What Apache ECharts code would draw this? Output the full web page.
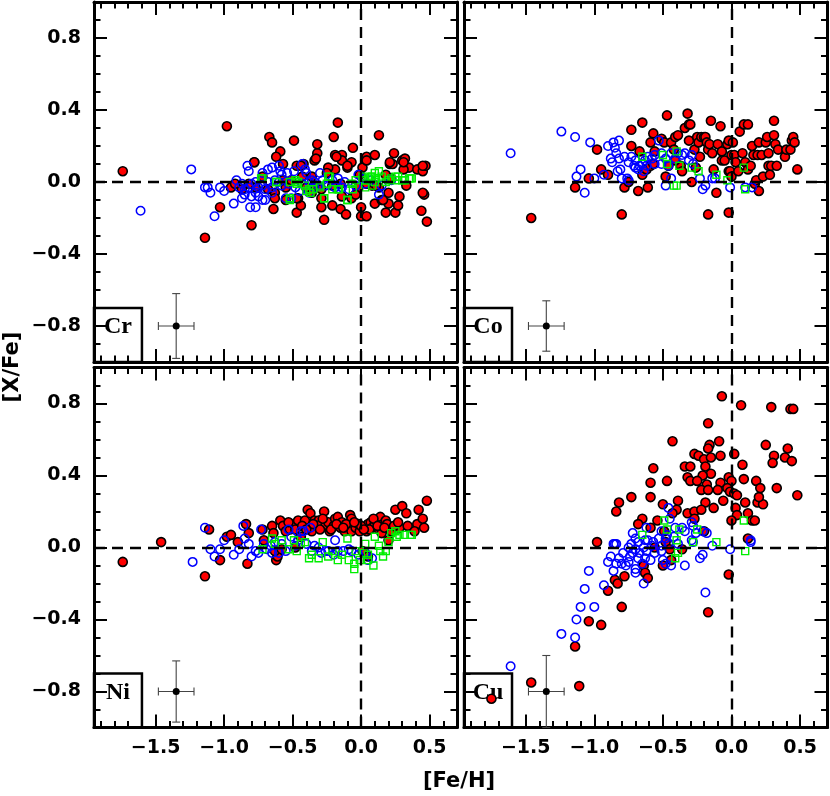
<!DOCTYPE html>
<html>
<head>
<meta charset="utf-8">
<script src="https://cdn.jsdelivr.net/npm/echarts@6/dist/echarts.min.js"></script>
<style>html,body{margin:0;padding:0;background:#fff}#chart{width:830px;height:796px}</style>
</head>
<body>
<div id="chart"></div>
<script>
// panels: Cr, Co (top), Ni, Cu (bottom)
var panelNames = ['Cr', 'Co', 'Ni', 'Cu'];

var xMajorTicks = [-1.5, -1.0, -0.5, 0.0, 0.5];
var xMinorTicks = [-1.9, -1.8, -1.7, -1.6, -1.4, -1.3, -1.2, -1.1, -0.9, -0.8, -0.7, -0.6, -0.4, -0.3, -0.2, -0.1, 0.1, 0.2, 0.3, 0.4, 0.6];
var yMajorTicks = [-0.8, -0.4, 0.0, 0.4, 0.8];
var yMinorTicks = [-0.9, -0.7, -0.6, -0.5, -0.3, -0.2, -0.1, 0.1, 0.2, 0.3, 0.5, 0.6, 0.7, 0.9];

// [x, y, xerr, yerr] typical error bar
var errBars = [[-1.35, -0.8, 0.13, 0.18], [-1.35, -0.8, 0.13, 0.14], [-1.35, -0.8, 0.13, 0.17], [-1.35, -0.8, 0.13, 0.2]];

var crRed = [[-1.74,0.06],[-0.98,0.31],[-1.14,-0.31],[-1.03,-0.14],[-0.80,-0.24],[-0.95,-0.03],[-0.78,0.11],[-0.67,0.25],[-0.65,0.22],[-0.59,0.17],
  [-0.62,0.14],[-0.49,0.23],[-0.57,0.10],[-0.64,-0.15],[-0.47,-0.17],[-0.44,-0.13],[-0.47,0.09],[-0.42,0.10],[-0.34,0.12],[-0.32,0.16],
  [-0.32,0.21],[-0.33,0.13],[-0.29,-0.14],[-0.27,-0.21],[-0.21,-0.13],[-0.20,0.25],[-0.17,0.33],[-0.19,0.15],[-0.14,0.15],[-0.14,0.12],
  [-0.07,0.11],[-0.06,0.19],[-0.15,-0.15],[-0.11,-0.18],[-0.10,0.08],[-0.14,-0.08],[0.00,-0.14],[0.00,-0.19],[0.04,-0.19],[0.04,0.14],
  [0.01,0.08],[0.10,0.15],[0.13,0.26],[0.10,-0.12],[0.15,-0.10],[0.18,-0.17],[0.20,-0.12],[0.20,-0.06],[0.24,0.16],[0.21,0.10],
  [0.23,0.10],[0.30,0.12],[0.32,0.13],[0.35,0.08],[0.31,0.07],[0.25,-0.17],[0.27,-0.13],[0.28,-0.08],[0.33,-0.02],[0.41,0.07],
  [0.45,0.06],[0.47,0.09],[0.46,-0.07],[0.44,-0.16],[0.48,-0.22],[-0.19,0.07],[-0.24,0.08],[-0.34,-0.02],[-0.36,0.03],[-0.43,0.03],
  [-0.51,0.01],[-0.55,-0.03],[-0.63,-0.06],[-0.68,-0.04],[-0.72,0.03],[-0.77,-0.03],[-0.82,-0.01],[-0.87,-0.04],[-0.92,-0.01],[-0.46,-0.09],
  [-0.63,-0.09],[-0.55,-0.10],[-0.02,-0.03],[0.08,-0.02],[0.13,-0.03],[0.18,0.04],[0.22,0.02],[-0.07,-0.09],[-0.04,-0.07],[-0.36,-0.06],
  [-0.29,-0.04],[-0.18,0.14],[-0.10,0.09],[-0.01,0.04],[0.04,0.12],[0.21,0.11],[0.31,0.11],[0.45,0.09],[0.45,-0.06],[0.16,-0.10],
  [0.11,-0.02],[0.04,-0.01],[-0.15,-0.01],[-0.21,-0.02],[-0.29,-0.09],[-0.47,-0.09],[-0.78,0.11],[-0.44,0.09],[-0.57,0.01],[-0.40,-0.03],[-0.25,0.05]];
var crBlue = [[-1.61,-0.16],[-1.24,0.07],[-1.14,-0.03],[-1.12,-0.03],[-1.10,-0.06],[-1.07,-0.19],[-1.03,-0.03],[-1.00,-0.05],[-0.93,-0.12],[-0.91,0.01],
  [-0.87,-0.09],[-0.85,-0.07],[-0.83,0.09],[-0.82,0.06],[-0.81,-0.14],[-0.77,-0.14],[-0.80,-0.08],[-0.75,-0.08],[-0.72,-0.10],[-0.70,-0.10],
  [-0.72,0.05],[-0.65,0.08],[-0.60,0.09],[-0.59,0.06],[-0.54,0.05],[-0.55,-0.09],[-0.51,-0.09],[-0.43,0.10],[-0.41,0.07],[-0.40,0.05],
  [-0.38,-0.06],[-0.30,0.05],[-0.34,-0.03],[-0.24,-0.01],[-0.21,0.01],[-0.17,0.02],[-0.09,-0.04],[-0.02,0.04],[0.01,0.02],[0.13,-0.07],
  [0.15,-0.02],[0.22,0.01],[-0.87,-0.01],[-0.82,-0.03],[-0.80,-0.01],[-0.77,0.00],[-0.75,-0.03],[-0.72,-0.02],[-0.70,-0.04],[-0.68,0.00],
  [-0.65,-0.03],[-0.63,0.01],[-0.60,0.00],[-0.58,-0.02],[-0.53,-0.01],[-0.48,-0.03],[-0.43,-0.01],[-0.38,0.00],[-0.36,0.01],[-0.34,0.00],
  [-0.31,-0.02],[-0.26,-0.02],[-0.19,-0.03],[-0.14,-0.03],[-0.04,-0.02],[-0.65,-0.06],[-0.77,-0.06],[-0.85,-0.04],[-0.89,-0.03],[-0.58,0.04],
  [-0.49,0.06],[-0.68,0.07],[-0.45,-0.05],[-0.28,0.01],[-0.12,0.00],[0.03,-0.01],[0.07,0.01]];
var crGreen = [[-0.73,0.02],[-0.62,0.00],[-0.52,-0.10],[-0.48,0.01],[-0.46,0.00],[-0.41,-0.02],[-0.38,-0.04],[-0.35,-0.04],[-0.27,-0.09],[-0.30,-0.03],
  [-0.24,0.03],[-0.21,-0.04],[-0.17,-0.04],[-0.10,-0.10],[-0.07,-0.01],[-0.04,0.01],[0.01,0.03],[0.03,0.01],[0.05,0.02],[0.08,0.03],
  [0.10,0.00],[0.11,0.02],[0.13,0.06],[0.15,0.03],[0.18,0.00],[0.20,0.01],[0.22,0.02],[0.25,0.03],[0.27,0.03],[0.30,0.01],
  [0.32,0.01],[0.35,0.02],[0.37,0.02],[0.03,-0.03],[0.08,-0.02],[-0.52,0.00],[-0.47,-0.01],[-0.40,-0.05],[-0.37,-0.06],[-0.30,-0.02],
  [-0.25,-0.01],[-0.16,-0.04],[-0.10,-0.10],[-0.06,-0.04],[0.07,0.03],[0.10,0.05],[0.26,0.01],[0.36,0.02],[-0.72,0.02],[-0.62,0.00],
  [-0.23,0.03],[-0.52,-0.09],[-0.27,-0.09]];

var coRed = [[-1.46,-0.20],[-1.14,-0.03],[-1.04,0.02],[-0.98,0.18],[-0.95,0.07],[-0.90,0.04],[-0.80,-0.18],[-0.78,-0.03],[-0.75,0.00],[-0.73,0.29],
  [-0.73,0.20],[-0.68,-0.05],[-0.67,0.17],[-0.65,0.33],[-0.61,-0.03],[-0.57,0.27],[-0.59,0.22],[-0.56,0.17],[-0.51,0.24],[-0.49,0.22],
  [-0.48,0.03],[-0.47,0.37],[-0.44,0.22],[-0.41,0.25],[-0.42,0.18],[-0.39,0.26],[-0.37,0.09],[-0.36,0.06],[-0.34,0.30],[-0.32,0.38],
  [-0.31,0.32],[-0.30,0.32],[-0.31,0.23],[-0.29,0.00],[-0.27,0.18],[-0.25,0.25],[-0.24,0.22],[-0.23,0.14],[-0.22,0.25],[-0.20,0.25],
  [-0.19,0.25],[-0.18,0.22],[-0.17,0.18],[-0.16,0.21],[-0.15,0.34],[-0.17,-0.18],[-0.14,0.16],[-0.13,0.07],[-0.11,-0.06],[-0.10,0.21],
  [-0.08,0.31],[-0.07,0.17],[-0.07,0.12],[-0.05,0.12],[-0.03,0.21],[-0.02,0.23],[-0.02,-0.17],[-0.02,0.06],[-0.01,0.06],[0.00,0.03],
  [0.00,0.15],[0.01,0.22],[0.02,0.15],[0.03,0.11],[0.05,0.06],[0.06,0.28],[0.08,0.16],[0.09,0.32],[0.12,0.32],[0.10,0.11],
  [0.12,0.07],[0.14,0.09],[0.15,0.20],[0.16,0.15],[0.17,-0.01],[0.18,0.01],[0.19,0.15],[0.20,-0.05],[0.20,0.22],[0.22,0.15],
  [0.23,0.03],[0.25,0.22],[0.26,0.25],[0.27,0.16],[0.27,0.09],[0.28,0.04],[0.29,0.09],[0.31,0.26],[0.31,0.34],[0.32,0.21],
  [0.33,0.09],[0.34,0.18],[0.39,0.14],[0.40,0.18],[0.43,0.18],[0.44,0.23],[0.45,0.25],[0.46,0.22],[0.48,0.07],[-0.65,0.04],
  [-0.62,0.07],[-0.59,0.09],[-0.57,0.10],[-0.46,0.09],[-0.41,0.12],[-0.26,0.08]];
var coBlue = [[-1.61,0.16],[-1.24,0.28],[-1.14,0.25],[-1.03,0.22],[-1.10,0.07],[-1.13,0.03],[-1.07,-0.06],[-1.00,0.02],[-0.93,0.04],[-0.90,0.20],
  [-0.86,0.22],[-0.82,0.23],[-0.85,0.19],[-0.84,0.16],[-0.82,0.13],[-0.88,0.13],[-0.87,0.11],[-0.83,0.06],[-0.81,0.07],[-0.80,0.02],
  [-0.76,0.02],[-0.75,0.01],[-0.78,0.14],[-0.75,0.11],[-0.73,0.14],[-0.71,0.09],[-0.70,0.08],[-0.68,0.07],[-0.65,0.10],[-0.63,0.12],
  [-0.61,0.14],[-0.58,0.13],[-0.56,0.10],[-0.53,0.23],[-0.51,0.16],[-0.48,0.13],[-0.48,-0.02],[-0.46,0.09],[-0.44,0.02],[-0.44,0.16],
  [-0.41,0.13],[-0.39,0.16],[-0.36,0.15],[-0.34,0.16],[-0.31,0.12],[-0.29,0.15],[-0.28,0.10],[-0.23,0.02],[-0.21,-0.04],[-0.19,-0.02],
  [-0.14,0.02],[-0.12,0.02],[-0.01,-0.03],[0.15,-0.03],[0.10,-0.03],[-0.70,0.12],[-0.67,0.09],[-0.62,0.09],[-0.56,0.15],[-0.51,0.10],[-0.64,0.06]];
var coGreen = [[-0.65,0.14],[-0.50,0.15],[-0.40,0.17],[-0.47,0.10],[-0.38,0.09],[-0.42,-0.02],[-0.40,-0.02],[-0.29,0.08],[-0.24,0.06],[-0.11,0.04],
  [-0.03,0.01],[0.09,0.08],[0.10,-0.04]];

var niRed = [[-1.74,-0.08],[-1.46,0.03],[-1.14,-0.16],[-1.11,0.10],[-1.03,-0.07],[-0.98,0.06],[-0.95,0.07],[-0.90,0.03],[-0.84,0.13],[-0.83,-0.09],
  [-0.82,0.08],[-0.72,0.10],[-0.71,0.04],[-0.65,0.12],[-0.64,0.08],[-0.62,-0.07],[-0.61,-0.05],[-0.59,0.15],[-0.57,0.12],[-0.55,0.09],
  [-0.52,0.10],[-0.49,0.13],[-0.48,0.10],[-0.46,0.15],[-0.41,0.15],[-0.39,0.21],[-0.37,0.19],[-0.36,0.09],[-0.34,0.15],[-0.32,0.12],
  [-0.31,0.15],[-0.29,0.13],[-0.27,0.20],[-0.26,0.12],[-0.24,0.14],[-0.23,0.09],[-0.20,0.12],[-0.19,0.16],[-0.17,0.17],[-0.15,0.11],
  [-0.14,0.14],[-0.12,0.09],[-0.10,0.12],[-0.08,0.18],[-0.07,0.16],[-0.07,0.09],[-0.04,0.11],[-0.02,0.13],[-0.01,0.09],[0.01,-0.02],
  [0.03,0.11],[0.04,0.09],[0.05,0.13],[0.07,0.14],[0.08,0.11],[0.10,0.13],[0.11,0.15],[0.14,0.17],[0.16,0.13],[0.18,0.15],
  [0.19,0.13],[0.25,0.21],[0.28,0.11],[0.30,0.23],[0.33,0.19],[0.34,0.12],[0.41,0.13],[0.42,0.21],[0.45,0.16],[0.46,0.11],
  [0.48,0.26],[0.39,0.09],[0.20,0.04],[0.05,-0.05],[-0.63,-0.02],[-0.48,0.00],[-0.58,-0.01],[-0.22,0.10],[-0.11,0.13],[0.00,0.12],
  [0.06,0.10],[0.13,0.10],[0.22,0.09],[0.15,0.08],[-0.30,0.10],[-0.43,0.12],[-0.35,0.13],[-0.28,0.16],[-0.18,0.13],[-0.13,0.11],
  [-0.05,0.14],[0.02,0.10],[0.09,0.16],[0.12,0.12],[0.17,0.11],[0.24,0.12],[0.27,0.14],[-0.40,0.10],[-0.53,0.14],[-0.44,0.06]];
var niBlue = [[-1.23,-0.08],[-1.14,0.11],[-1.10,-0.01],[-1.07,-0.05],[-1.03,-0.01],[-1.00,0.04],[-0.93,-0.04],[-0.89,-0.01],[-0.86,0.12],[-0.85,0.05],
  [-0.82,0.02],[-0.80,-0.05],[-0.77,-0.02],[-0.75,-0.03],[-0.73,0.10],[-0.71,0.02],[-0.69,-0.01],[-0.66,0.01],[-0.65,-0.03],[-0.63,0.03],
  [-0.60,-0.03],[-0.58,0.02],[-0.55,-0.02],[-0.53,0.10],[-0.51,0.06],[-0.48,0.01],[-0.46,0.04],[-0.44,0.09],[-0.42,0.09],[-0.40,0.02],
  [-0.37,0.11],[-0.36,-0.02],[-0.34,0.01],[-0.31,0.00],[-0.29,-0.03],[-0.26,-0.02],[-0.24,-0.02],[-0.20,-0.04],[-0.19,0.04],[-0.17,-0.02],
  [-0.13,-0.02],[-0.09,-0.01],[-0.07,-0.02],[-0.02,-0.04],[0.03,-0.03],[0.08,-0.06],[0.05,-0.07]];
var niGreen = [[-0.72,-0.01],[-0.65,0.05],[-0.63,0.02],[-0.58,0.04],[-0.53,-0.01],[-0.49,0.04],[-0.47,-0.02],[-0.44,0.02],[-0.41,0.03],[-0.38,-0.06],
  [-0.36,-0.04],[-0.31,-0.06],[-0.28,0.03],[-0.24,-0.05],[-0.21,-0.02],[-0.17,-0.07],[-0.14,-0.04],[-0.10,0.05],[-0.09,-0.07],[-0.05,-0.12],
  [-0.05,-0.09],[-0.01,-0.07],[0.02,-0.03],[0.03,0.02],[0.05,-0.04],[0.05,-0.07],[0.09,-0.10],[0.10,0.06],[0.13,0.01],[0.14,-0.02],
  [0.16,-0.05],[0.18,-0.02],[0.20,0.03],[0.22,0.08],[0.25,0.09],[0.26,0.06],[0.28,0.07],[0.32,0.07],[0.36,0.07],[0.37,0.07],[-0.04,-0.02]];

var cuRed = [[-0.07,0.84],[0.07,0.79],[0.29,0.78],[0.43,0.77],[0.45,0.77],[-0.17,0.69],[-0.09,0.59],[-0.43,0.59],[-0.16,0.57],[-0.17,0.55],
  [0.25,0.57],[0.41,0.55],[-0.27,0.52],[-0.24,0.51],[-0.20,0.49],[-0.15,0.50],[-0.08,0.51],[0.02,0.52],[0.31,0.51],[0.39,0.50],
  [0.44,0.48],[0.30,0.47],[-0.34,0.45],[-0.30,0.45],[-0.19,0.45],[-0.57,0.44],[0.08,0.46],[-0.15,0.41],[-0.21,0.40],[-0.32,0.39],
  [-0.30,0.37],[-0.25,0.37],[-0.18,0.35],[-0.02,0.39],[0.00,0.37],[0.09,0.38],[0.18,0.37],[-0.59,0.36],[-0.47,0.37],[-0.08,0.36],
  [-0.22,0.32],[-0.17,0.32],[-0.10,0.32],[-0.03,0.33],[-0.01,0.31],[0.02,0.30],[0.21,0.33],[0.33,0.33],[0.48,0.29],[-0.73,0.28],
  [-0.59,0.28],[-0.39,0.26],[-0.50,0.24],[-0.19,0.25],[-0.06,0.26],[0.04,0.29],[0.10,0.25],[0.19,0.25],[0.23,0.24],[0.20,0.28],
  [-0.82,0.25],[-0.84,0.20],[-0.40,0.21],[-0.43,0.19],[-0.32,0.19],[-0.27,0.20],[-0.22,0.21],[-0.13,0.22],[0.03,0.22],[0.04,0.18],
  [-0.65,0.16],[-0.68,0.13],[-0.59,0.11],[-0.54,0.15],[-0.49,0.09],[-0.27,0.16],[-0.20,0.09],[0.00,0.15],[0.12,0.19],[0.15,0.15],
  [0.17,0.15],[0.12,0.05],[-0.98,0.03],[-0.56,0.00],[-0.48,0.03],[-0.45,-0.01],[-0.36,-0.01],[-0.44,-0.07],[-0.50,-0.10],[-0.64,-0.10],
  [-0.63,-0.14],[-0.61,-0.17],[-0.78,-0.16],[-0.85,-0.18],[-0.83,-0.20],[-0.90,-0.24],[-0.80,-0.33],[-1.04,-0.41],[-0.95,-0.43],[-1.14,-0.55],
  [-0.02,-0.15],[-0.17,-0.36],[-1.46,-0.75],[-1.11,-0.77],[-1.75,-0.84]];
var cuBlue = [[-1.61,-0.66],[-1.24,-0.48],[-1.14,-0.50],[-1.13,-0.40],[-1.10,-0.33],[-1.00,-0.33],[-1.07,-0.23],[-0.93,-0.21],[-1.04,-0.13],[-0.90,-0.08],
  [-0.88,-0.05],[-0.86,-0.13],[-0.84,-0.09],[-0.82,-0.06],[-0.80,-0.09],[-0.79,-0.03],[-0.77,-0.10],[-0.75,-0.08],[-0.74,-0.05],[-0.72,-0.03],
  [-0.70,-0.12],[-0.70,-0.14],[-0.68,-0.06],[-0.67,-0.03],[-0.64,-0.20],[-0.65,-0.09],[-0.63,-0.06],[-0.59,-0.07],[-0.56,-0.03],[-0.51,-0.02],
  [-0.50,-0.07],[-0.48,-0.09],[-0.44,-0.10],[-0.34,-0.10],[-0.23,-0.06],[-0.21,-0.04],[-0.19,-0.25],[-0.01,-0.01],[0.14,0.03],[-0.14,0.01],
  [-0.86,0.02],[-0.84,0.02],[-0.75,0.00],[-0.73,0.02],[-0.70,-0.01],[-0.64,0.00],[-0.62,-0.02],[-0.58,0.01],[-0.51,0.01],[-0.46,0.02],
  [-0.39,0.02],[-0.28,0.03],[-0.46,0.22],[-0.45,0.16],[-0.72,0.08],[-0.62,0.11],[-0.85,0.02],[-0.68,0.03],[-0.61,0.04],[-0.53,0.05],
  [-0.51,0.09],[-0.47,0.07],[-0.41,0.11],[-0.36,0.11],[-0.34,0.09],[-0.29,0.14],[-0.28,0.12],[-0.26,0.08],[-0.21,0.09],[-0.18,0.08],
  [-0.48,0.05],[-0.57,0.03],[-0.42,0.06],[-0.29,0.04],[-0.70,0.05],[-0.63,0.04],[0.14,0.04]];
var cuGreen = [[-0.49,0.15],[-0.47,0.10],[-0.38,0.10],[-0.25,0.10],[-0.65,0.07],[-0.40,0.04],[-0.11,0.03],[0.09,0.15],[-0.28,0.03],[-0.39,-0.03],
  [-0.41,-0.06],[0.10,-0.02]];

var redSets = [crRed, coRed, niRed, cuRed];
var blueSets = [crBlue, coBlue, niBlue, cuBlue];
var greenSets = [crGreen, coGreen, niGreen, cuGreen];

var FONT = 'DejaVu Sans';
var chart = echarts.init(document.getElementById('chart'));

var grids = [
  {left: 94, top: 2, width: 363, height: 360},
  {left: 464, top: 2, width: 363.5, height: 360},
  {left: 94, top: 367.5, width: 363, height: 360},
  {left: 464, top: 367.5, width: 363.5, height: 360}
];

function fmt(v) { return v.toFixed(1).replace('-', '\u2212'); }

function makeX(p, pos, major) {
  return {
    type: 'value', gridIndex: p, position: pos, min: -1.95, max: 0.7,
    axisLine: {show: major, onZero: false, lineStyle: {color: '#000', width: 3}},
    axisTick: {show: true, inside: true, length: major ? 13 : 6.5, customValues: major ? xMajorTicks : xMinorTicks,
      lineStyle: {color: '#000', width: 2}},
    axisLabel: {show: major && pos === 'bottom' && p >= 2, customValues: xMajorTicks, margin: 11,
      color: '#000', fontFamily: FONT, fontWeight: 'bold', fontSize: 19, formatter: fmt},
    splitLine: {show: false}, axisPointer: {show: false}
  };
}
function makeY(p, pos, major) {
  return {
    type: 'value', gridIndex: p, position: pos, min: -1.0, max: 1.0,
    axisLine: {show: major, onZero: false, lineStyle: {color: '#000', width: 3}},
    axisTick: {show: true, inside: true, length: major ? 13 : 6.5, customValues: major ? yMajorTicks : yMinorTicks,
      lineStyle: {color: '#000', width: 2}},
    axisLabel: {show: major && pos === 'left' && p % 2 === 0, customValues: yMajorTicks, margin: 13,
      color: '#000', fontFamily: FONT, fontWeight: 'bold', fontSize: 19, formatter: fmt},
    splitLine: {show: false}, axisPointer: {show: false}
  };
}

function renderErr(params, api) {
  var x = api.value(0), y = api.value(1), dx = api.value(2), dy = api.value(3);
  var c = api.coord([x, y]);
  var l = api.coord([x - dx, y]), r = api.coord([x + dx, y]);
  var t = api.coord([x, y + dy]), b = api.coord([x, y - dy]);
  var st = {stroke: '#444', lineWidth: 1.1};
  var cap = 4;
  return {type: 'group', children: [
    {type: 'line', shape: {x1: l[0], y1: l[1], x2: r[0], y2: r[1]}, style: st},
    {type: 'line', shape: {x1: t[0], y1: t[1], x2: b[0], y2: b[1]}, style: st},
    {type: 'line', shape: {x1: l[0], y1: l[1] - cap, x2: l[0], y2: l[1] + cap}, style: st},
    {type: 'line', shape: {x1: r[0], y1: r[1] - cap, x2: r[0], y2: r[1] + cap}, style: st},
    {type: 'line', shape: {x1: t[0] - cap, y1: t[1], x2: t[0] + cap, y2: t[1]}, style: st},
    {type: 'line', shape: {x1: b[0] - cap, y1: b[1], x2: b[0] + cap, y2: b[1]}, style: st},
    {type: 'circle', shape: {cx: c[0], cy: c[1], r: 3.5}, style: {fill: '#000'}}
  ]};
}

var xAxes = [], yAxes = [], series = [];
for (var p = 0; p < 4; p++) {
  xAxes.push(makeX(p, 'bottom', true), makeX(p, 'bottom', false), makeX(p, 'top', true), makeX(p, 'top', false));
  yAxes.push(makeY(p, 'left', true), makeY(p, 'left', false), makeY(p, 'right', true), makeY(p, 'right', false));
  var xi = 4 * p, yi = 4 * p;
  series.push({
    type: 'scatter', xAxisIndex: xi, yAxisIndex: yi, data: redSets[p], symbol: 'circle', symbolSize: 9,
    itemStyle: {color: '#ff0000', borderColor: '#000', borderWidth: 1.6, opacity: 1},
    markLine: {silent: true, symbol: 'none', label: {show: false},
      lineStyle: {color: '#000', width: 2.4, type: [11, 7]}, data: [{xAxis: 0}, {yAxis: 0}]},
    markArea: {silent: true, itemStyle: {color: 'rgba(0,0,0,0)', borderColor: '#000', borderWidth: 2.5},
      label: {show: true, position: 'inside', offset: [0, -8], color: '#000',
        fontFamily: 'Liberation Serif', fontWeight: 'bold', fontSize: 24},
      data: [[{name: panelNames[p], xAxis: -1.95, yAxis: -1.0}, {xAxis: -1.6, yAxis: -0.7}]]}
  });
  series.push({
    type: 'scatter', xAxisIndex: xi, yAxisIndex: yi, data: blueSets[p], symbol: 'circle', symbolSize: 8.5,
    itemStyle: {color: 'rgba(0,0,0,0)', borderColor: '#0000ff', borderWidth: 1.5, opacity: 1}
  });
  series.push({
    type: 'scatter', xAxisIndex: xi, yAxisIndex: yi, data: greenSets[p], symbol: 'rect', symbolSize: 7,
    itemStyle: {color: 'rgba(0,0,0,0)', borderColor: '#00ee00', borderWidth: 1.4, opacity: 1}
  });
  series.push({
    type: 'custom', xAxisIndex: xi, yAxisIndex: yi, data: [errBars[p]], renderItem: renderErr,
    encode: {x: 0, y: 1}, silent: true
  });
}

chart.setOption({
  animation: false,
  backgroundColor: '#fff',
  grid: grids.map(function (g) { g.outerBoundsMode = 'none'; return g; }),
  xAxis: xAxes,
  yAxis: yAxes,
  series: series,
  graphic: [
    {type: 'text', x: 459, y: 782, style: {text: '[Fe/H]', fill: '#000', font: 'bold 21px "DejaVu Sans"', align: 'center', verticalAlign: 'middle'}},
    {type: 'text', x: 13, y: 367, rotation: Math.PI / 2, style: {text: '[X/Fe]', fill: '#000', font: 'bold 21px "DejaVu Sans"', align: 'center', verticalAlign: 'middle'}}
  ]
});
</script>
</body>
</html>
